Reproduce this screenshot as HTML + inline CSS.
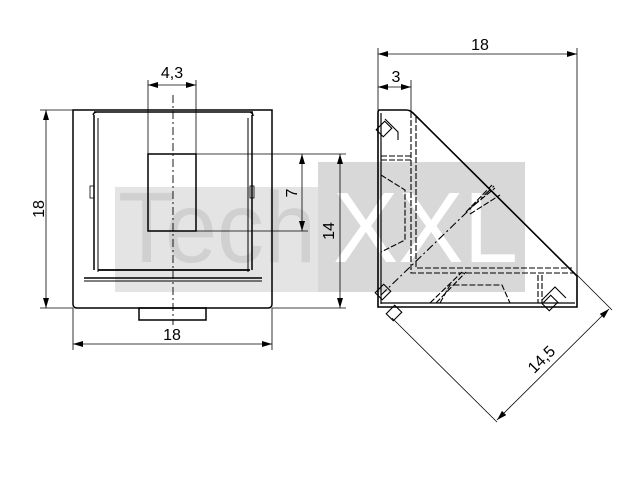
<!DOCTYPE html>
<html><head><meta charset="utf-8"><style>html,body{margin:0;padding:0;background:#fff}svg{display:block}</style></head>
<body>
<svg width="640" height="480" viewBox="0 0 640 480" xmlns="http://www.w3.org/2000/svg" font-family="Liberation Sans, sans-serif">
<defs>
<marker id="a" viewBox="0 0 10 6" refX="10" refY="3" markerWidth="11" markerHeight="6" orient="auto-start-reverse" markerUnits="userSpaceOnUse"><path d="M0,0 L10,3 L0,6 z" fill="#000"/></marker>
</defs>
<rect x="115" y="187" width="205" height="105" fill="#e4e4e4"/>
<rect x="318" y="162" width="207" height="130" fill="#d8d8d8"/>
<text x="118" y="262" font-size="100" fill="#d0d0d0" textLength="198" lengthAdjust="spacingAndGlyphs">Tech</text>
<text x="333" y="262" font-size="100" fill="#fff" textLength="185" lengthAdjust="spacingAndGlyphs">XXL</text>

<g fill="none" stroke="#000" stroke-width="1.5">
<path d="M73,110 H272 V304 Q272,308 268,308 H77 Q73,308 73,304 Z"/>
<rect x="139" y="308" width="67" height="12"/>
<path d="M94,112 H253 M93,115 Q94,112 97,112 M250,112 Q253,113 253,116" />
<line x1="94" y1="115" x2="94" y2="270"/><line x1="98" y1="118" x2="98" y2="272" stroke-width="1"/>
<line x1="252" y1="115" x2="252" y2="270"/><line x1="248" y1="118" x2="248" y2="272" stroke-width="1"/>
<line x1="98" y1="270" x2="250" y2="270" stroke-width="1.8"/>
<line x1="84" y1="278" x2="262" y2="278"/><line x1="84" y1="281" x2="262" y2="281" stroke-width="1"/>
<rect x="90" y="186" width="4" height="12" stroke-width="0.8"/><rect x="250" y="186" width="4" height="12" stroke-width="0.8"/>
<rect x="148" y="154" width="48" height="77"/>
<line x1="173" y1="95" x2="173" y2="325" stroke-dasharray="8,3,2,3" stroke-width="0.9"/>
</g>
<g stroke="#000" stroke-width="0.8" fill="none">
<line x1="148" y1="80" x2="148" y2="154"/><line x1="196" y1="80" x2="196" y2="154"/>
<line x1="148" y1="85" x2="196" y2="85" marker-start="url(#a)" marker-end="url(#a)"/>
<line x1="40" y1="110" x2="73" y2="110"/><line x1="40" y1="308" x2="73" y2="308"/>
<line x1="46" y1="110" x2="46" y2="308" marker-start="url(#a)" marker-end="url(#a)"/>
<line x1="73" y1="308" x2="73" y2="350"/><line x1="272" y1="308" x2="272" y2="350"/>
<line x1="73" y1="344" x2="272" y2="344" marker-start="url(#a)" marker-end="url(#a)"/>
<line x1="196" y1="154" x2="346" y2="154"/><line x1="196" y1="231" x2="308" y2="231"/>
<line x1="272" y1="308" x2="346" y2="308"/>
<line x1="302" y1="154" x2="302" y2="231" marker-start="url(#a)" marker-end="url(#a)"/>
<line x1="340" y1="154" x2="340" y2="308" marker-start="url(#a)" marker-end="url(#a)"/>
<line x1="378" y1="48" x2="378" y2="110"/><line x1="577" y1="48" x2="577" y2="275"/>
<line x1="378" y1="54" x2="577" y2="54" marker-start="url(#a)" marker-end="url(#a)"/>
<line x1="411" y1="80" x2="411" y2="112"/>
<line x1="378" y1="87" x2="411" y2="87" marker-start="url(#a)" marker-end="url(#a)"/>
<line x1="392" y1="318" x2="497" y2="422"/><line x1="577" y1="275" x2="612" y2="310"/>
<line x1="497" y1="420" x2="609" y2="309" marker-start="url(#a)" marker-end="url(#a)"/>
</g>
<g fill="none" stroke="#000" stroke-width="1.6">
<path d="M378,307 V112 Q378,110 380,110 H406 Q410,110 413,113 L577,276 V307 Z"/>
<line x1="381" y1="113" x2="381" y2="304" stroke-width="1.2"/>
<line x1="381" y1="303" x2="575" y2="303" stroke-width="1.2"/>
</g>
<g fill="none" stroke="#000" stroke-width="1.1" stroke-dasharray="6,2">
<path d="M411,112 V273 H575"/><path d="M416,117 V268 H572"/>
<path d="M381,156 H411 M381,160 H411"/>
<path d="M381,175 L405,190 V240 L381,252"/>
<path d="M538,275 V303 M542,275 V303"/>
<path d="M440,303 L450,285 H502 L510,303"/>
<path d="M430,303 L462,272 M436,303 L466,272"/>
<path d="M468,210 L495,188 M470,214 L500,195 M466,212 L492,185"/>
<path d="M381,295 L495,185" stroke-dasharray="8,3,2,3"/>
</g>
<g fill="none" stroke="#000" stroke-width="1.1">
<rect x="-6" y="-5" width="12" height="10" transform="translate(384,129) rotate(-45)"/>
<rect x="-6" y="-5" width="12" height="10" transform="translate(383,292) rotate(-45)"/>
<rect x="-6" y="-5" width="12" height="10" transform="translate(394,313) rotate(-45)"/>
<rect x="-6" y="-5" width="12" height="10" transform="translate(550,303) rotate(-45)"/>
<path d="M385,119 L398,132 V140 M542,300 L555,287 L566,298"/>
</g>
<g font-size="16" fill="#000" text-anchor="middle">
<text x="172" y="78">4,3</text>
<text x="172" y="340">18</text>
<text x="38" y="209" transform="rotate(-90 38 209)" dy="6">18</text>
<text x="291" y="193" transform="rotate(-90 291 193)" dy="6">7</text>
<text x="328" y="231" transform="rotate(-90 328 231)" dy="6">14</text>
<text x="480" y="50">18</text>
<text x="396" y="82">3</text>
<text x="541" y="359" transform="rotate(-45 541 359)" dy="6">14,5</text>
</g>
</svg>
</body></html>
